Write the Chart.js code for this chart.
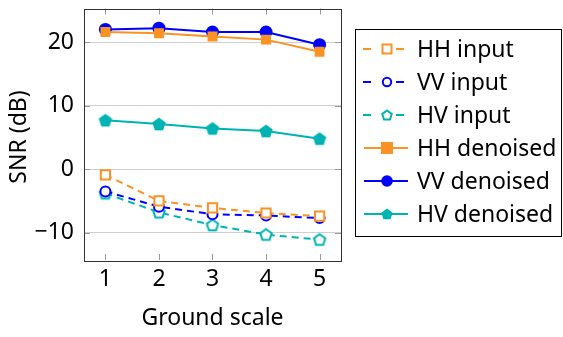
<!DOCTYPE html>
<html>
<head>
<meta charset="utf-8">
<script src="https://cdn.jsdelivr.net/npm/chart.js@4/dist/chart.umd.min.js"></script>
<style>
  html,body{margin:0;padding:0;background:#fff;}
  #wrap{width:563px;height:337px;position:relative;}
</style>
</head>
<body>
<div id="wrap"><canvas id="c" width="563" height="337"></canvas></div>
<script>
const scales = [1, 2, 3, 4, 5];
const yTicks = [-10, 0, 10, 20];
const hhInput = [-0.9, -5.0, -6.1, -6.9, -7.4];
const vvInput = [-3.5, -5.9, -7.1, -7.3, -7.7];
const hvInput = [-3.8, -6.8, -8.8, -10.3, -11.1];
const hhDenoised = [21.6, 21.4, 20.9, 20.4, 18.5];
const vvDenoised = [22.0, 22.2, 21.6, 21.6, 19.6];
const hvDenoised = [7.7, 7.1, 6.4, 6.0, 4.8];

const ORANGE = '#fb9324', BLUE = '#0000ff', TEAL = '#00b3b3';
const FONT = '"Noto Sans", "DejaVu Sans", sans-serif';

function pentagon(color, filled, r){
  const s = Math.ceil(r*2+4), cv = document.createElement('canvas');
  cv.width = s; cv.height = s;
  const g = cv.getContext('2d');
  g.beginPath();
  for(let i=0;i<5;i++){
    const a = -Math.PI/2 + i*2*Math.PI/5;
    const px = s/2 + r*Math.cos(a), py = s/2 + 0.5 + r*Math.sin(a);
    i ? g.lineTo(px,py) : g.moveTo(px,py);
  }
  g.closePath();
  if(filled){ g.fillStyle = color; g.fill(); }
  else { g.fillStyle = '#fff'; g.fill(); g.lineWidth = 2; g.strokeStyle = color; g.stroke(); }
  return cv;
}

function pts(arr){ return arr.map((v,i)=>({x:scales[i], y:v})); }

const datasets = [
  {label:'HH input', data:pts(hhInput), borderColor:ORANGE, backgroundColor:'#fff', borderDash:[7,5],
   pointStyle:'rect', pointRadius:6.5, pointBorderWidth:2},
  {label:'VV input', data:pts(vvInput), borderColor:BLUE, backgroundColor:'#fff', borderDash:[7,5],
   pointStyle:'circle', pointRadius:5, pointBorderWidth:2},
  {label:'HV input', data:pts(hvInput), borderColor:TEAL, backgroundColor:'#fff', borderDash:[7,5],
   pointStyle:pentagon(TEAL,false,6)},
  {label:'HH denoised', data:pts(hhDenoised), borderColor:ORANGE, backgroundColor:ORANGE,
   pointStyle:'rect', pointRadius:7, pointBorderWidth:0},
  {label:'VV denoised', data:pts(vvDenoised), borderColor:BLUE, backgroundColor:BLUE,
   pointStyle:'circle', pointRadius:6.5, pointBorderWidth:0},
  {label:'HV denoised', data:pts(hvDenoised), borderColor:TEAL, backgroundColor:TEAL,
   pointStyle:pentagon(TEAL,true,7)}
];
datasets.forEach(d => { d.borderWidth = 2; d.tension = 0; d.fill = false; });

const frame = {
  id:'frame',
  beforeDatasetsDraw(chart){
    const {ctx, chartArea:a, scales:{x,y}} = chart;
    ctx.save();
    ctx.strokeStyle = '#999'; ctx.lineWidth = 1;
    scales.forEach(v => {
      const px = Math.round(x.getPixelForValue(v))+0.5;
      ctx.beginPath();
      ctx.moveTo(px,a.bottom); ctx.lineTo(px,a.bottom-6);
      ctx.moveTo(px,a.top); ctx.lineTo(px,a.top+6);
      ctx.stroke();
    });
    yTicks.forEach(v => {
      const py = Math.round(y.getPixelForValue(v))+0.5;
      ctx.beginPath();
      ctx.moveTo(a.left,py); ctx.lineTo(a.left+6,py);
      ctx.moveTo(a.right,py); ctx.lineTo(a.right-6,py);
      ctx.stroke();
    });
    ctx.restore();
  },
  afterDraw(chart){
    const {ctx, chartArea:a} = chart;
    ctx.save();
    ctx.strokeStyle = '#333'; ctx.lineWidth = 1;
    ctx.strokeRect(Math.round(a.left)+0.5, Math.round(a.top)+0.5, Math.round(a.right-a.left), Math.round(a.bottom-a.top));

    // axis titles
    ctx.fillStyle = '#000';
    ctx.font = '23px ' + FONT;
    ctx.textAlign = 'center'; ctx.textBaseline = 'middle';
    ctx.fillText('Ground scale', (a.left+a.right)/2, 318);
    ctx.translate(19, 137);
    ctx.rotate(-Math.PI/2);
    ctx.fillText('SNR (dB)', 0, 0);
    ctx.restore();

    // legend
    ctx.save();
    ctx.strokeStyle = '#000'; ctx.lineWidth = 1;
    ctx.strokeRect(355.5, 29.5, 206, 207);
    ctx.font = '23px ' + FONT;
    ctx.textBaseline = 'middle'; ctx.textAlign = 'left';
    chart.data.datasets.forEach((d,i) => {
      const ly = 49 + i*33;
      const open = !!d.borderDash;
      ctx.save();
      ctx.strokeStyle = d.borderColor; ctx.lineWidth = 2;
      ctx.beginPath();
      if(open){ ctx.moveTo(363,ly); ctx.lineTo(371,ly); ctx.moveTo(396,ly); ctx.lineTo(404,ly); }
      else { ctx.moveTo(364,ly); ctx.lineTo(408,ly); }
      ctx.stroke();
      const cx = 387;
      if(d.pointStyle instanceof HTMLCanvasElement){
        const p = pentagon(TEAL, !open, open ? 5 : 6);
        ctx.drawImage(p, cx - p.width/2, ly - p.height/2);
      } else if(d.pointStyle === 'rect'){
        if(open){ ctx.fillStyle='#fff'; ctx.fillRect(cx-4.5,ly-4.5,9,9); ctx.strokeRect(cx-4.5,ly-4.5,9,9); }
        else { ctx.fillStyle=d.borderColor; ctx.fillRect(cx-6,ly-6,12,12); }
      } else {
        ctx.beginPath(); ctx.arc(cx,ly,open?4.2:5.8,0,Math.PI*2);
        if(open){ ctx.fillStyle='#fff'; ctx.fill(); ctx.stroke(); }
        else { ctx.fillStyle=d.borderColor; ctx.fill(); }
      }
      ctx.restore();
      ctx.fillStyle = '#000';
      ctx.fillText(d.label, 417, ly+1);
    });
    ctx.restore();
  }
};

new Chart(document.getElementById('c'), {
  type:'line',
  data:{datasets},
  options:{
    responsive:false, animation:false,
    layout:{padding:{top:4, right:222, left:0, bottom:0}},
    plugins:{legend:{display:false}, tooltip:{enabled:false}},
    scales:{
      x:{
        type:'linear', min:0.6, max:5.4,
        afterBuildTicks: s => { s.ticks = scales.map(v=>({value:v})); },
        afterFit: s => { s.height = 77; s.paddingLeft = 0; s.paddingRight = 0; },
        grid:{display:false, drawTicks:false},
        border:{display:false},
        ticks:{color:'#000', font:{family:FONT, size:23}, padding:6}
      },
      y:{
        type:'linear', min:-14.3, max:25.3,
        afterBuildTicks: s => { s.ticks = yTicks.map(v=>({value:v})); },
        afterFit: s => { s.width = 84; s.paddingTop = 0; s.paddingBottom = 0; },
        grid:{color:'#d0d0d0', lineWidth:1, drawTicks:false},
        border:{display:false},
        ticks:{color:'#000', font:{family:FONT, size:23}, padding:10,
          callback: v => String(v).replace('-', '\u2212')}
      }
    }
  },
  plugins:[frame]
});
</script>
</body>
</html>
